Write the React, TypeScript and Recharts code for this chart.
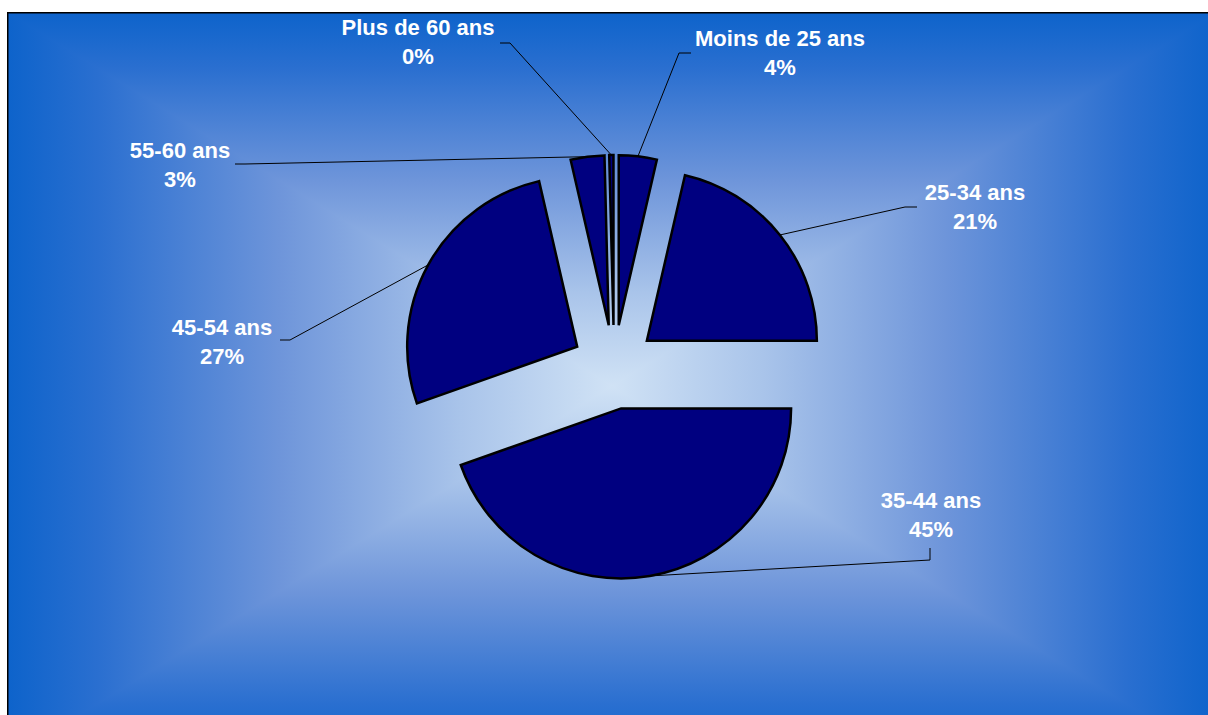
import React from 'react';
import { PieChart, Pie, Sector } from 'recharts';

const categories = [
  'Moins de 25 ans',
  '25-34 ans',
  '35-44 ans',
  '45-54 ans',
  '55-60 ans',
  'Plus de 60 ans',
];
const shares = [3.6, 21.4, 44.6, 26.8, 3.2, 0.4];

const data = categories.map((name, i) => ({ name, value: shares[i] }));

// frame geometry (the plot frame runs past the window on the right and bottom)
const W = 1201;
const H = 703;
const FRAME_W = 1210;
const FRAME_H = 748;
const GC = { x: FRAME_W / 2, y: FRAME_H / 2 };

const PIE_CX = 607;
const PIE_CY = 355;
const PIE_R = 170;
const EXPLODE = 42;

const SLICE_FILL = '#000080';
const FONT = '"Liberation Sans", Arial, sans-serif';

// label text centre / first baseline, leader elbow and stub end
const labelLayout = [
  { x: 773, y: 34, elbow: [672, 41], stub: [684, 41] },
  { x: 968, y: 188, elbow: [898, 195], stub: [910, 195] },
  { x: 924, y: 496, elbow: [923, 548], stub: [923, 536] },
  { x: 215, y: 323, elbow: [283, 328], stub: [273, 328] },
  { x: 173, y: 146, elbow: [238, 152], stub: [228, 152] },
  { x: 411, y: 23, elbow: [503, 31], stub: [493, 31] },
];

// edge -> centre
const gradStops = [
  { offset: 0, color: '#0d63cb' },
  { offset: 0.15, color: '#2a6fd0' },
  { offset: 0.45, color: '#6e95da' },
  { offset: 0.75, color: '#a9c4ea' },
  { offset: 1, color: '#d0e2f5' },
];

const RADIAN = Math.PI / 180;
const polar = (cx: number, cy: number, r: number, angle: number) => ({
  x: cx + r * Math.cos(-angle * RADIAN),
  y: cy + r * Math.sin(-angle * RADIAN),
});

const mirrored = [
  ...gradStops.map((s) => ({ offset: s.offset / 2, color: s.color })),
  ...gradStops
    .slice(0, -1)
    .reverse()
    .map((s) => ({ offset: 1 - s.offset / 2, color: s.color })),
];

// rectangular "from centre" fill: vertical gradient base + left/right wedges on top
function Background() {
  const sides = [
    { id: 'gL', pts: `0,0 0,${FRAME_H}`, x1: 0, x2: FRAME_W },
    { id: 'gR', pts: `${FRAME_W},0 ${FRAME_W},${FRAME_H}`, x1: 0, x2: FRAME_W },
  ];
  return (
    <svg width={W} height={H} style={{ position: 'absolute', left: 0, top: 0 }}>
      <defs>
        <linearGradient id="gV" gradientUnits="userSpaceOnUse" x1={0} y1={0} x2={0} y2={FRAME_H}>
          {mirrored.map((s, i) => (
            <stop key={i} offset={s.offset} stopColor={s.color} />
          ))}
        </linearGradient>
        <linearGradient id="gH" gradientUnits="userSpaceOnUse" x1={0} y1={0} x2={FRAME_W} y2={0}>
          {mirrored.map((s, i) => (
            <stop key={i} offset={s.offset} stopColor={s.color} />
          ))}
        </linearGradient>
      </defs>
      <rect x={0} y={0} width={FRAME_W} height={FRAME_H} fill="url(#gV)" />
      {sides.map((t) => (
        <polygon key={t.id} points={`${t.pts} ${GC.x},${GC.y}`} fill="url(#gH)" />
      ))}
      <rect
        x={0.75}
        y={0.75}
        width={FRAME_W}
        height={FRAME_H}
        fill="none"
        stroke="#000"
        strokeWidth={1.5}
      />
    </svg>
  );
}

function renderSlice(props: any) {
  const { cx, cy, midAngle, outerRadius, startAngle, endAngle, index, percent } = props;
  const c = polar(cx, cy, EXPLODE, midAngle);
  const edge = polar(c.x, c.y, outerRadius, midAngle);
  const l = labelLayout[index];
  return (
    <g key={`slice-${index}`}>
      <Sector
        cx={c.x}
        cy={c.y}
        innerRadius={0}
        outerRadius={outerRadius}
        startAngle={startAngle}
        endAngle={endAngle}
        fill={SLICE_FILL}
        stroke="#000"
        strokeWidth={2.5}
      />
      <polyline
        points={`${edge.x},${edge.y} ${l.elbow[0]},${l.elbow[1]} ${l.stub[0]},${l.stub[1]}`}
        fill="none"
        stroke="#000"
        strokeWidth={1}
      />
      <text
        x={l.x}
        y={l.y}
        textAnchor="middle"
        fill="#fff"
        fontFamily={FONT}
        fontWeight="bold"
        fontSize={22}
      >
        <tspan x={l.x}>{categories[index]}</tspan>
        <tspan x={l.x} dy={29}>{`${Math.round(percent * 100)}%`}</tspan>
      </text>
    </g>
  );
}

export default function App() {
  return (
    <div
      style={{
        position: 'absolute',
        left: 7,
        top: 12,
        width: W,
        height: H,
        overflow: 'hidden',
      }}
    >
      <Background />
      <div style={{ position: 'absolute', left: 0, top: 0 }}>
        <PieChart width={W} height={H} margin={{ top: 0, right: 0, bottom: 0, left: 0 }}>
          <Pie
            data={data}
            dataKey="value"
            nameKey="name"
            cx={PIE_CX}
            cy={PIE_CY}
            outerRadius={PIE_R}
            startAngle={90}
            endAngle={-270}
            fill="none"
            stroke="none"
            label={renderSlice}
            labelLine={false}
            isAnimationActive={false}
          />
        </PieChart>
      </div>
    </div>
  );
}
